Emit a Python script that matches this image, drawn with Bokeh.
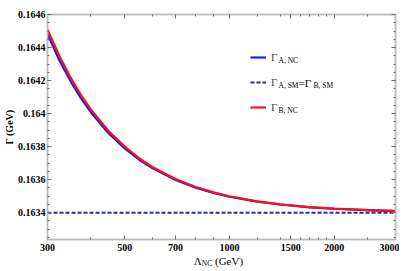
from bokeh.plotting import figure
from bokeh.layouts import column
from bokeh.embed import file_html
from bokeh.resources import INLINE
from bokeh.models import (Range1d, FixedTicker, SingleIntervalTicker, NumeralTickFormatter,
                          LogAxis, LinearAxis, Label, Legend, LegendItem, CustomJSTickFormatter, Div)

# ---- data ----
lam = [300, 325, 350, 375, 400, 450, 500, 550, 600, 700, 800, 900, 1000,
       1200, 1400, 1700, 2000, 2500, 3000]
gamma_B_NC = [0.164510, 0.164346, 0.164216, 0.164110, 0.164024, 0.163893, 0.163800,
              0.163730, 0.163677, 0.163604, 0.163556, 0.163523, 0.163500,
              0.163469, 0.163451, 0.163434, 0.163425, 0.163416, 0.163411]
gamma_A_NC = [0.164480, 0.164320, 0.164194, 0.164091, 0.164007, 0.163880, 0.163789,
              0.163721, 0.163670, 0.163598, 0.163552, 0.163520, 0.163497,
              0.163467, 0.163450, 0.163433, 0.163424, 0.163416, 0.163410]
lam_sm = [300, 3000]
gamma_SM = [0.16340, 0.16340]

x_ticks = [300, 500, 700, 1000, 1500, 2000, 3000]
x_minor = [400, 600, 800, 900, 1200, 1400, 1600, 1700, 1800, 1900, 2500]

SERIF = "Liberation Serif"
FRAME_GRAY = "#bdbdbd"
TICK_GRAY = "#6e6e6e"

H = 256
MBT, MBB = 14, 17
p = figure(width=399, height=H, output_backend="svg", toolbar_location=None,
           x_axis_type="log", x_range=Range1d(300, 3000), y_range=Range1d(0.163238, 0.1646),
           min_border_left=38, min_border_right=4, min_border_top=MBT, min_border_bottom=MBB)
p.grid.visible = False
p.outline_line_color = FRAME_GRAY
p.outline_line_width = 1.5

rA = p.line(lam, gamma_A_NC, line_color="#1a1aff", line_width=2.2)
rS = p.line(lam_sm, gamma_SM, line_color="#2b2b99", line_width=2.2, line_dash="4 2")
rB = p.line(lam, gamma_B_NC, line_color="#ff1010", line_width=2.2)

def style(ax, labels=True):
    ax.axis_line_color = FRAME_GRAY
    ax.axis_line_width = 1.5
    ax.major_tick_in = 4
    ax.major_tick_out = 0
    ax.minor_tick_in = 2
    ax.minor_tick_out = 0
    ax.major_tick_line_color = TICK_GRAY
    ax.minor_tick_line_color = TICK_GRAY
    ax.major_label_text_font = SERIF
    ax.major_label_text_font_style = "bold"
    ax.major_label_text_font_size = "10px"
    ax.major_label_text_color = "black"
    if not labels:
        ax.formatter = CustomJSTickFormatter(code="return ''")
        ax.major_label_text_font_size = "1px"
        ax.major_label_standoff = 0

xt = FixedTicker(ticks=x_ticks, minor_ticks=x_minor)
yt = SingleIntervalTicker(interval=0.0002, num_minor_ticks=4)

p.xaxis.ticker = xt
p.xaxis.formatter = NumeralTickFormatter(format="0")
p.xaxis.major_label_standoff = 4
p.yaxis.ticker = yt
p.yaxis.formatter = NumeralTickFormatter(format="0.[0000]")
p.yaxis.major_label_standoff = 2
p.yaxis.axis_label = "Γ (GeV)"
p.yaxis.axis_label_standoff = 0
p.yaxis.axis_label_text_font = SERIF
p.yaxis.axis_label_text_font_style = "bold"
p.yaxis.axis_label_text_font_size = "10px"
p.yaxis.axis_label_text_color = "black"
style(p.xaxis[0])
style(p.yaxis[0])

top = LogAxis(ticker=xt)
right = LinearAxis(ticker=yt)
style(top, labels=False)
style(right, labels=False)
p.add_layout(top, "above")
p.add_layout(right, "right")

# ---- legend (line samples + Γ), subscripts as labels ----
FL = 41                  # expected frame left inside the figure
x0 = 252 - 8 - FL
rows = [182, 157, 132]   # row centres, px above the frame bottom
legend = Legend(items=[LegendItem(label="Γ", renderers=[rA]),
                       LegendItem(label="Γ", renderers=[rS]),
                       LegendItem(label="Γ", renderers=[rB])],
                location=(x0, rows[2] - 10), padding=0, spacing=5, glyph_width=16,
                glyph_height=20, label_height=20, label_standoff=5, border_line_color=None,
                background_fill_alpha=0, label_text_font=SERIF, label_text_font_size="11px",
                margin=0)
p.add_layout(legend)

def lab(text, x, y, size):
    p.add_layout(Label(x=x, y=y, x_units="screen", y_units="screen", text=text,
                       text_font=SERIF, text_font_size=size, text_baseline="middle",
                       text_color="black"))

sx = x0 + 28
lab("A, NC", sx, rows[0] - 3, "7.5px")
lab("A, SM", sx, rows[1] - 3, "7.5px")
lab("=Γ", sx + 20, rows[1], "11px")
lab("B, SM", sx + 35, rows[1] - 3, "7.5px")
lab("B, NC", sx, rows[2] - 3, "7.5px")

# x axis title with subscript, as real HTML text
xtitle = Div(text=('<div style="width:399px;text-align:center;position:relative;left:19px;top:-3px;'
                   'font-family:\'Liberation Serif\';font-size:11px;line-height:12px;color:black;'
                   'white-space:nowrap">Λ<sub style="font-size:7.5px;vertical-align:-1px">NC</sub> (GeV)</div>'),
             width=399, height=13, margin=0)

layout = column(p, xtitle, spacing=0)
open("out.html", "w").write(file_html(layout, INLINE))
